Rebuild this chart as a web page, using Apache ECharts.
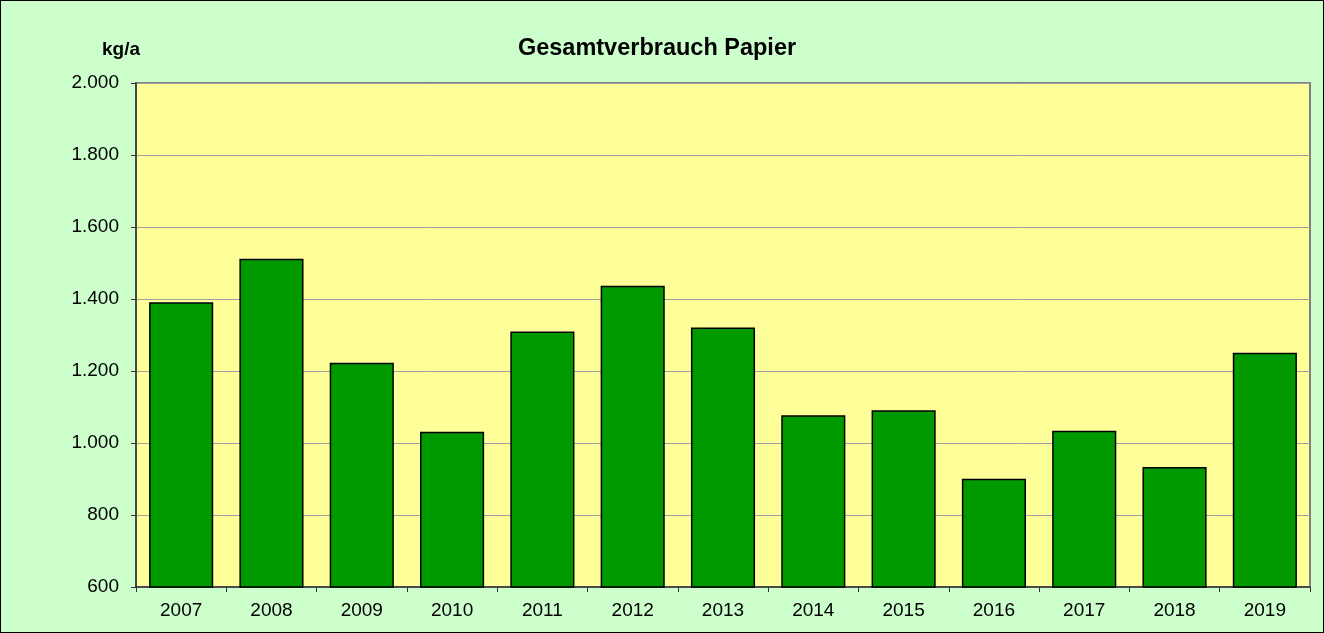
<!DOCTYPE html>
<html><head><meta charset="utf-8">
<script src="https://cdn.jsdelivr.net/npm/echarts@6/dist/echarts.min.js"></script>
<style>html,body{margin:0;padding:0;background:#CCFFCC}#c{width:1324px;height:633px;box-sizing:border-box;border:1px solid #000}</style>
</head><body><div id="c"></div>
<script>
const years = ['2007','2008','2009','2010','2011','2012','2013','2014','2015','2016','2017','2018','2019'];
const consumption = [1391, 1512, 1223, 1031, 1310, 1437, 1321, 1077, 1091, 901, 1034, 933, 1251];
const yTicks = {min: 600, max: 2000, interval: 200};

const chart = echarts.init(document.getElementById('c'), null, {renderer: 'canvas'});
const font = 'Liberation Sans, Arial, sans-serif';
chart.setOption({
  backgroundColor: '#CCFFCC',
  animation: false,
  title: {text: 'Gesamtverbrauch Papier', left: 651, top: 31, textAlign: 'center',
    textStyle: {fontFamily: font, fontWeight: 'bold', fontSize: 23.5, color: '#000'}},
  grid: {left: 135, right: 13, top: 82, bottom: 45, show: true, backgroundColor: '#FFFF99', borderColor: '#808080', borderWidth: 2},
  xAxis: {type: 'category', data: years,
    axisLine: {lineStyle: {color: '#333', width: 1.5}},
    axisTick: {show: true, alignWithLabel: false, length: 5, lineStyle: {color: '#333'}},
    axisLabel: {fontFamily: font, fontSize: 19, color: '#000', margin: 14}},
  yAxis: {type: 'value', min: yTicks.min, max: yTicks.max, interval: yTicks.interval,
    name: 'kg/a', nameLocation: 'end', nameGap: 24,
    nameTextStyle: {fontFamily: font, fontWeight: 'bold', fontSize: 19, color: '#000', align: 'center', padding: [0, 30, 0, 0]},
    axisLine: {show: true, lineStyle: {color: '#333', width: 1.5}},
    axisTick: {show: true, length: 5, lineStyle: {color: '#333'}},
    splitLine: {lineStyle: {color: '#A0A0A0', width: 1}},
    axisLabel: {fontFamily: font, fontSize: 19, color: '#000', margin: 17,
      formatter: v => v >= 1000 ? Math.floor(v/1000) + '.' + String(v % 1000).padStart(3, '0') : String(v)}},
  series: [{type: 'bar', data: consumption, barCategoryGap: '29%',
    itemStyle: {color: '#009900', borderColor: '#000', borderWidth: 1.5}}]
});
</script></body></html>
